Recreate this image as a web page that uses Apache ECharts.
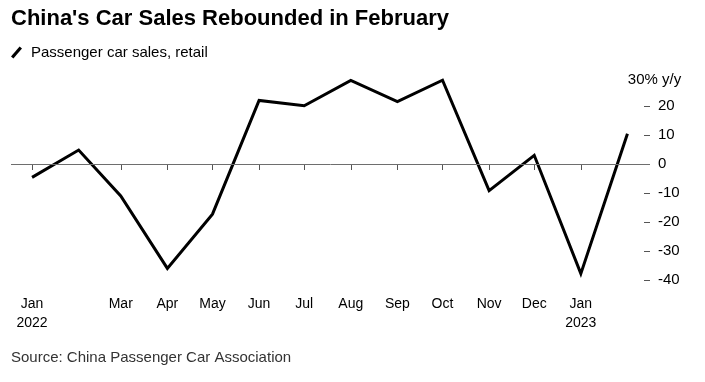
<!DOCTYPE html>
<html><head><meta charset="utf-8">
<script src="https://cdn.jsdelivr.net/npm/echarts@6/dist/echarts.min.js"></script>
<style>html,body{margin:0;padding:0;background:#fff}#c{width:705px;height:382px}</style>
</head><body><div id="c"></div>
<script>
var months = ['2022-01','2022-02','2022-03','2022-04','2022-05','2022-06','2022-07','2022-08','2022-09','2022-10','2022-11','2022-12','2023-01','2023-02'];
var retailYoY = [-4.6, 4.8, -11.0, -36.0, -17.3, 21.9, 20.1, 28.8, 21.5, 28.9, -9.2, 3.0, -37.8, 10.4];
var tickMonths = ['2022-01','2022-03','2022-04','2022-05','2022-06','2022-07','2022-08','2022-09','2022-10','2022-11','2022-12','2023-01'];
var monthNames = ['Jan','Feb','Mar','Apr','May','Jun','Jul','Aug','Sep','Oct','Nov','Dec'];
var yTicks = [-40,-30,-20,-10,0,10,20];
var yTop = 30, yBottom = -40;
var yUnit = '30% y/y';
var seriesName = 'Passenger car sales, retail';
var titleText = "China's Car Sales Rebounded in February";
var sourceText = 'Source: China Passenger Car Association';

function ts(m){ var p = m.split('-'); return Date.UTC(+p[0], +p[1]-1, 1); }
var points = months.map(function(m,i){ return [ts(m), retailYoY[i]]; });
var xTicks = tickMonths.map(ts);
var FONT = '"Liberation Sans", Arial, sans-serif';

var chart = echarts.init(document.getElementById('c'));
chart.setOption({
  animation:false,
  backgroundColor:'#fff',
  title:{
    text: titleText, left: 11, top: 8, padding: 0,
    textStyle:{fontFamily:FONT, fontSize:22, fontWeight:'bold', color:'#000'}
  },
  legend:{
    data:[{name:seriesName, icon:'path://M0,10 L8.6,0 L11,1.8 L2.4,11.8 Z'}],
    left: 11, top: 45, padding: 0, itemWidth: 11, itemHeight: 12, itemGap: 6,
    textStyle:{fontFamily:FONT, fontSize:15, color:'#000', padding:[0,0,0,4]}
  },
  graphic:[{
    type:'text', left: 11, top: 350,
    style:{text: sourceText, font: '15px ' + FONT, fill:'#333'}
  }],
  grid:{left: 11, right: 55, top: 77, bottom: 102},
  xAxis:{
    type:'value',
    min: Date.UTC(2021,11,18), max: Date.UTC(2023,1,16),
    axisLine:{show:false},
    splitLine:{show:false},
    axisTick:{show:true, length:6, lineStyle:{color:'#555'}, customValues: xTicks},
    axisLabel:{
      customValues: xTicks, margin: 15,
      fontFamily: FONT, fontSize: 14, color:'#000', lineHeight: 19,
      formatter: function(v){
        var d = new Date(v); var m = d.getUTCMonth();
        return m === 0 ? monthNames[m] + '\n' + d.getUTCFullYear() : monthNames[m];
      }
    }
  },
  yAxis:{
    type:'value', position:'right', min: yBottom, max: yTop, interval: 10,
    name: yUnit, nameLocation:'end', nameGap: -3,
    nameTextStyle:{fontFamily:FONT, fontSize:15, color:'#000', align:'center', verticalAlign:'middle', padding:[0,0,0,9]},
    axisLine:{show:false},
    splitLine:{show:false},
    axisTick:{show:true, inside:true, length:6, lineStyle:{color:'#555'}, customValues: yTicks},
    axisLabel:{customValues: yTicks, margin: 8, fontFamily:FONT, fontSize:15, color:'#000'}
  },
  series:[
    {
      type:'line', data:[], z:1, silent:true,
      markLine:{
        silent:true, symbol:['none','none'], label:{show:false},
        lineStyle:{color:'#6e6e6e', width:1, type:'solid'},
        data:[{yAxis:0}]
      }
    },
    {
      name: seriesName, type:'line', data: points, z:3,
      symbol:'none', showSymbol:false,
      lineStyle:{color:'#000', width:3, join:'miter'},
      itemStyle:{color:'#000'}
    }
  ]
});
</script>
</body></html>
